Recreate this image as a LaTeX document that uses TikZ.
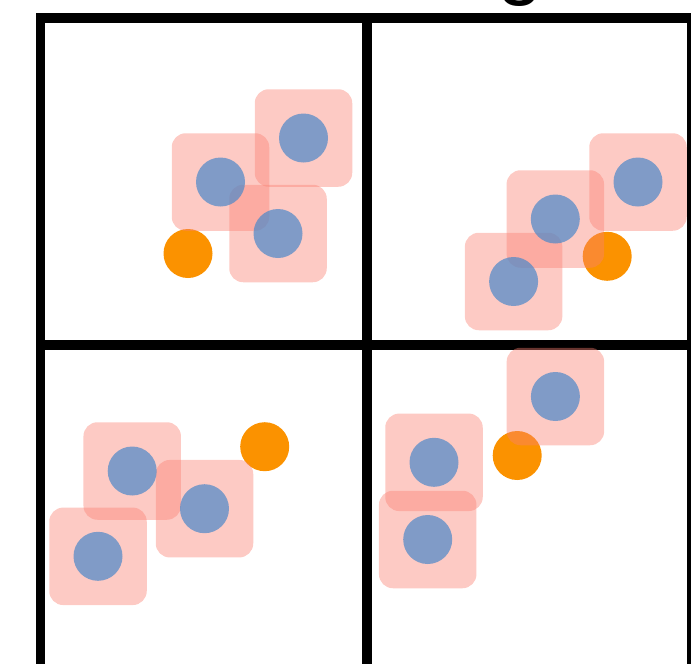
\documentclass[tikz,border=0pt]{standalone}
\usepackage{fontspec}
\newfontfamily\titlefont{Liberation Sans}
\definecolor{sqpink}{RGB}{250,128,114}
\definecolor{dotblue}{RGB}{75,136,201}
\definecolor{dotorange}{RGB}{251,146,0}
\tikzset{
  gridline/.style={line width=9.5pt, draw=black},
  sqbox/.style={rectangle, rounded corners=14pt, minimum size=97.5pt, inner sep=0pt, fill=sqpink, fill opacity=0.42, draw=none},
  bdot/.style={circle, minimum size=49pt, inner sep=0pt, fill=dotblue, fill opacity=0.7, draw=none},
  odot/.style={circle, minimum size=49pt, inner sep=0pt, fill=dotorange, draw=none}
}
\begin{document}
\begin{tikzpicture}[x=1pt,y=-1pt]
\useasboundingbox (0,0) rectangle (691,664);
% partially visible title glyph
\node[anchor=south, inner sep=0pt, font=\titlefont\fontsize{82}{84}\selectfont] (title) at (520,7) {g};
% grid
\draw[gridline] (40.5,18) rectangle (692,672);
\draw[gridline] (367,18) -- (367,672);
\draw[gridline] (40.5,345) -- (692,345);
% orange dots
\node[odot] (o1) at (188,253.5) {};
\node[odot] (o2) at (607.2,256.3) {};
\node[odot] (o3) at (264.7,446.7) {};
\node[odot] (o4) at (517.2,455.5) {};
% centres
\coordinate (pA) at (220.5,182);
\coordinate (pB) at (303.5,138);
\coordinate (pC) at (278,233.5);
\coordinate (pD) at (638,182);
\coordinate (pE) at (555.3,219);
\coordinate (pF) at (513.6,281.5);
\coordinate (pG) at (132.2,471);
\coordinate (pH) at (204.5,508.7);
\coordinate (pI) at (98,556.3);
\coordinate (pJ) at (555.4,396.5);
\coordinate (pK) at (434,462.3);
\coordinate (pL) at (427.7,539.5);
% pink boxes
\node[sqbox] (sA) at (pA) {};
\node[sqbox] (sB) at (pB) {};
\node[sqbox] (sC) at (pC) {};
\node[sqbox] (sD) at (pD) {};
\node[sqbox] (sE) at (pE) {};
\node[sqbox] (sF) at (pF) {};
\node[sqbox] (sG) at (pG) {};
\node[sqbox] (sH) at (pH) {};
\node[sqbox] (sI) at (pI) {};
\node[sqbox] (sJ) at (pJ) {};
\node[sqbox] (sK) at (pK) {};
\node[sqbox] (sL) at (pL) {};
% blue dots
\node[bdot] (cA) at (pA) {};
\node[bdot] (cB) at (pB) {};
\node[bdot] (cC) at (pC) {};
\node[bdot] (cD) at (pD) {};
\node[bdot] (cE) at (pE) {};
\node[bdot] (cF) at (pF) {};
\node[bdot] (cG) at (pG) {};
\node[bdot] (cH) at (pH) {};
\node[bdot] (cI) at (pI) {};
\node[bdot] (cJ) at (pJ) {};
\node[bdot] (cK) at (pK) {};
\node[bdot] (cL) at (pL) {};
\end{tikzpicture}
\end{document}
